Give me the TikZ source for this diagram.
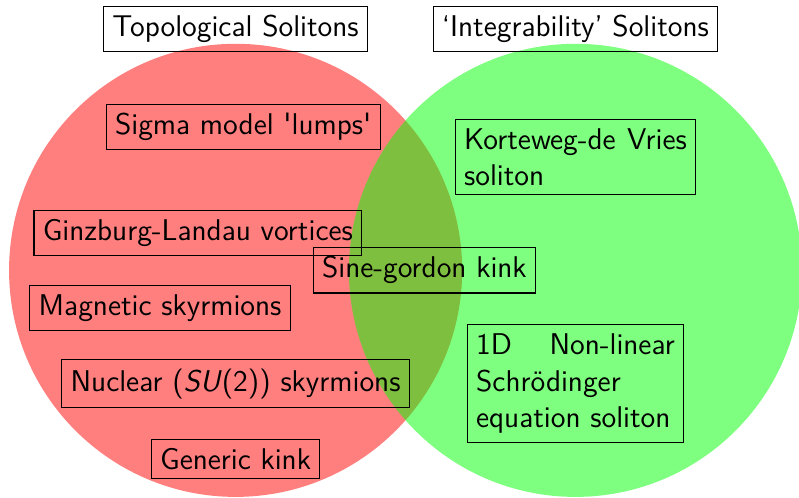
\documentclass[tikz,border=0pt]{standalone}
\usepackage{tikz}
\usetikzlibrary{positioning}

\begin{document}
\begin{tikzpicture}[
        font=\sffamily\fontsize{11.3}{13.8}\selectfont,
        set/.style={opacity=0.5},
        box/.style={draw, fill=none, align=center},
        para/.style={box, text width=#1, align=justify}
]
    \useasboundingbox (-3.12,-3.01) rectangle (7.46,3.58);
    \fill[set, red]   (0,0)   circle (3cm);
    \fill[set, green] (4.5,0) circle (3cm);
    \node[box] (topo)  at (0,3.2)   {Topological Solitons};
    \node[box] (integ) at (4.5,3.2) {`Integrability' Solitons};
    \node[box] (sigma)    at (0.1,1.9)   {Sigma model \textquotesingle lumps\textquotesingle};
    \node[box] (ginzburg) at (-0.5,0.5)  {Ginzburg-Landau vortices};
    \node[box] (magnetic) at (-1,-0.5)   {Magnetic skyrmions};
    \node[box] (nuclear)  at (0,-1.5)    {Nuclear (\textit{SU}(2)) skyrmions};
    \node[box] (generic)  at (0,-2.5)    {Generic kink};
    \node[box] (sine)     at (2.5,0)     {Sine-gordon kink};
    \node[para=2.95cm] (kdv) at (4.5,1.5)  {Korteweg-de Vries soliton};
    \node[para=2.63cm] (nls) at (4.5,-1.5) {1D Non-linear Schrödinger equation \mbox{soliton}};
\end{tikzpicture}
\end{document}
